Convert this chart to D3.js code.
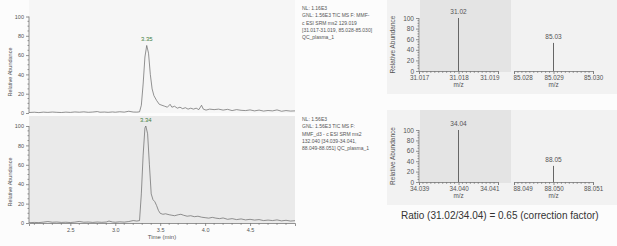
<!DOCTYPE html>
<html>
<head>
<meta charset="utf-8">
<script src="https://cdn.jsdelivr.net/npm/d3@7"></script>
<style>
  body { margin: 0; background: #fcfcfc; }
  svg { display: block; font-family: "Liberation Sans", Arial, sans-serif; }
  .axis path, .axis line { stroke: #777; stroke-width: 0.8; }
  .axis text { fill: #555; }
</style>
</head>
<body>
<div id="container"></div>
<script>
// chromatogram 1 (MMF, 129.019)
const ticTime1 = [2.04, 2.1, 2.15, 2.2, 2.25, 2.3, 2.35, 2.4, 2.45, 2.5, 2.55, 2.6, 2.65, 2.7, 2.75, 2.8, 2.83, 2.88, 2.92, 2.97,
  3.0, 3.05, 3.1, 3.15, 3.2, 3.24, 3.27, 3.29, 3.31, 3.33, 3.35, 3.37, 3.39, 3.41, 3.43, 3.46, 3.49, 3.52, 3.55, 3.58,
  3.61, 3.63, 3.66, 3.69, 3.72, 3.75, 3.78, 3.81, 3.84, 3.87, 3.9, 3.93, 3.96, 3.98, 4.01, 4.05, 4.1, 4.15, 4.2, 4.25,
  4.3, 4.35, 4.4, 4.45, 4.5, 4.55, 4.6, 4.65, 4.7, 4.75, 4.8, 4.85, 4.9, 4.95, 5.0];
const ticAbund1 = [0.5, 0.8, 0.4, 0.9, 0.6, 1.0, 0.7, 0.5, 0.9, 0.6, 1.1, 0.8, 1.2, 0.7, 1.0, 1.5, 0.8, 1.0, 0.7, 1.1,
  0.8, 1.3, 0.9, 1.8, 1.0, 0.9, 1.2, 8, 30, 58, 70, 62, 40, 25, 18, 13, 9, 8, 7, 6,
  9, 6, 7, 5, 6, 4.5, 5.5, 4, 5, 4, 5, 3.5, 8, 4, 3, 4, 3.5, 4, 3, 3.8,
  2.5, 3.5, 2.8, 2.5, 3.2, 2.2, 3, 2, 2.6, 2.2, 3.2, 1.8, 2.5, 2, 2.2];

// chromatogram 2 (MMF_d3, 132.040)
const ticTime2 = [2.04, 2.1, 2.15, 2.2, 2.25, 2.3, 2.35, 2.4, 2.45, 2.5, 2.55, 2.6, 2.65, 2.7, 2.75, 2.8, 2.85, 2.9, 2.93, 2.97,
  3.0, 3.05, 3.1, 3.15, 3.2, 3.24, 3.27, 3.29, 3.31, 3.33, 3.34, 3.36, 3.38, 3.40, 3.42, 3.44, 3.46, 3.48, 3.50, 3.53,
  3.56, 3.6, 3.63, 3.66, 3.7, 3.73, 3.76, 3.8, 3.84, 3.88, 3.92, 3.96, 4.0, 4.04, 4.08, 4.12, 4.16, 4.2, 4.25, 4.3,
  4.35, 4.4, 4.45, 4.5, 4.55, 4.6, 4.65, 4.7, 4.75, 4.8, 4.85, 4.9, 4.95, 5.0];
const ticAbund2 = [0.3, 0.6, 0.4, 0.9, 1.5, 0.8, 1.0, 0.6, 0.8, 0.5, 0.9, 1.6, 0.8, 1.0, 0.6, 1.0, 0.7, 1.0, 2.0, 1.0,
  0.8, 1.2, 0.9, 1.5, 2.5, 2.0, 2.5, 30, 70, 98, 100, 92, 60, 30, 24, 22, 18, 13, 10, 9,
  9.5, 8.5, 8, 7.5, 8.5, 9, 8, 7, 7.5, 6.5, 7, 6, 5.5, 5, 5.8, 5, 4.5, 5.2, 3.8, 4.5,
  3.5, 4.2, 3.2, 3.8, 3.0, 3.5, 2.5, 3.0, 2.5, 3.2, 2.2, 2.8, 2.0, 2.4];

const peakLabels = ["3.35", "3.34"];
const peakTimes = [3.35, 3.34];
const peakValues = [70, 100];

const timeTicks = [2.5, 3.0, 3.5, 4.0, 4.5];
const abundTicks = [0, 20, 40, 60, 80, 100];

const infoText1 = ["NL: 1.16E3", "GNL: 1.56E3 TIC  MS  F: MMF-", "c ESI SRM ms2 129.019",
  "[31.017-31.019, 85.028-85.030]", "QC_plasma_1"];
const infoText2 = ["NL: 1.56E3", "GNL: 1.56E3 TIC  MS  F:", "MMF_d3 - c ESI SRM ms2",
  "132.040 [34.039-34.041,", "88.049-88.051] QC_plasma_1"];

// mass spectra
const spec1Mz = [31.018, 85.029];
const spec1Abund = [100, 53];
const spec1Labels = ["31.02", "85.03"];
const spec1Ranges = [[31.017, 31.019], [85.028, 85.030]];

const spec2Mz = [34.040, 88.050];
const spec2Abund = [100, 31];
const spec2Labels = ["34.04", "88.05"];
const spec2Ranges = [[34.039, 34.041], [88.049, 88.051]];

const ratioText = "Ratio (31.02/34.04) = 0.65 (correction factor)";

const W = 617, H = 246;
const svg = d3.select("#container").append("svg")
  .attr("width", W).attr("height", H);

// ---- chromatograms
const x = d3.scaleLinear().domain([2.04, 5.0]).range([29, 295]);
const yTop = d3.scaleLinear().domain([0, 100]).range([113, 16.5]);
const yBot = d3.scaleLinear().domain([0, 100]).range([223, 126]);

svg.append("rect").attr("x", x.range()[0]).attr("y", 0)
  .attr("width", x.range()[1] - x.range()[0]).attr("height", yTop(0))
  .attr("fill", "#f6f6f6");
svg.append("rect").attr("x", x.range()[0]).attr("y", 116)
  .attr("width", x.range()[1] - x.range()[0]).attr("height", yBot(0) - 116)
  .attr("fill", "#eaeaea");

function drawChrom(times, vals, y, idx, labelY) {
  const line = d3.line().x((d, i) => x(times[i])).y(d => y(d));
  svg.append("path").datum(vals)
    .attr("d", line)
    .attr("fill", "none")
    .attr("stroke", "#666")
    .attr("stroke-width", 0.7);

  // y axis
  const ya = svg.append("g").attr("class", "axis")
    .attr("transform", `translate(${x.range()[0]},0)`)
    .call(d3.axisLeft(y).tickValues(abundTicks).tickSize(3).tickPadding(2));
  ya.selectAll("text").style("font-size", "5.5px");
  ya.select(".domain").attr("d", `M0,${y(0)}V${y(100)}`);
  ya.selectAll(".minor").data(d3.range(0, 101, 5).filter(v => v % 20))
    .enter().append("line")
    .attr("x1", 0).attr("x2", -1.5)
    .attr("y1", d => y(d)).attr("y2", d => y(d))
    .attr("stroke", "#777").attr("stroke-width", 0.6);

  svg.append("text")
    .attr("transform", `translate(12,${labelY}) rotate(-90)`)
    .attr("text-anchor", "middle")
    .style("font-size", "5.5px").attr("fill", "#555")
    .text("Relative Abundance");

  svg.append("text")
    .attr("x", x(peakTimes[idx])).attr("y", y(peakValues[idx]) - 4)
    .attr("text-anchor", "middle")
    .style("font-size", "6px").attr("fill", "#3f7f3f")
    .text(peakLabels[idx]);
}

drawChrom(ticTime1, ticAbund1, yTop, 0, 72);
drawChrom(ticTime2, ticAbund2, yBot, 1, 182);

// time axis
const xa = svg.append("g").attr("class", "axis")
  .attr("transform", `translate(0,${yBot(0)})`)
  .call(d3.axisBottom(x).tickValues(timeTicks).tickSize(3).tickPadding(2)
    .tickFormat(d3.format(".1f")));
xa.selectAll("text").style("font-size", "5.5px");
xa.selectAll(".minor").data(d3.range(21, 50).map(v => v / 10).filter(v => Math.abs(v * 2 - Math.round(v * 2)) > 0.01))
  .enter().append("line")
  .attr("x1", d => x(d)).attr("x2", d => x(d))
  .attr("y1", 0).attr("y2", 1.8)
  .attr("stroke", "#777").attr("stroke-width", 0.6);
svg.append("text").attr("x", 162).attr("y", 239)
  .attr("text-anchor", "middle").style("font-size", "6px").attr("fill", "#555")
  .text("Time (min)");

function drawInfo(lines, top) {
  svg.append("g").selectAll("text").data(lines).enter().append("text")
    .attr("x", 302).attr("y", (d, i) => top + i * 7.3)
    .style("font-size", "5px").attr("fill", "#555")
    .text(d => d);
}
drawInfo(infoText1, 10);
drawInfo(infoText2, 121);

// ---- mass spectra
function drawSpec(mz, ab, labels, ranges, boxTop, y) {
  const segs = [
    d3.scaleLinear().domain(ranges[0]).range([419, 498]),
    d3.scaleLinear().domain(ranges[1]).range([514, 593])
  ];
  svg.append("rect").attr("x", 387).attr("y", boxTop)
    .attr("width", W - 387).attr("height", y(0) - boxTop + 23)
    .attr("fill", "#f2f2f2");
  svg.append("rect").attr("x", 420).attr("y", boxTop)
    .attr("width", 91).attr("height", y(0) - boxTop + 1)
    .attr("fill", "#e4e4e4");

  const ya = svg.append("g").attr("class", "axis")
    .attr("transform", "translate(419,0)")
    .call(d3.axisLeft(y).tickValues(abundTicks).tickSize(3).tickPadding(2));
  ya.selectAll("text").style("font-size", "6.5px");
  ya.select(".domain").attr("d", `M0,${y(0)}V${y(100)}`);
  ya.selectAll(".minor").data(d3.range(0, 101, 5).filter(v => v % 20))
    .enter().append("line")
    .attr("x1", 0).attr("x2", -1.5)
    .attr("y1", d => y(d)).attr("y2", d => y(d))
    .attr("stroke", "#777").attr("stroke-width", 0.6);

  svg.append("text")
    .attr("transform", `translate(395,${(y(0) + y(100)) / 2}) rotate(-90)`)
    .attr("text-anchor", "middle")
    .style("font-size", "6.5px").attr("fill", "#555")
    .text("Relative Abundance");

  segs.forEach((s, k) => {
    const d0 = ranges[k][0];
    const ax = svg.append("g").attr("class", "axis")
      .attr("transform", `translate(0,${y(0)})`)
      .call(d3.axisBottom(s).tickValues([d0, d0 + 0.001, d0 + 0.002])
        .tickSize(3).tickPadding(1.5).tickFormat(d3.format(".3f")));
    ax.selectAll("text").style("font-size", "6.3px");
    // keep the two inner end labels apart, as in the original
    if (k === 0) ax.selectAll(".tick:last-of-type text").attr("text-anchor", "end").attr("x", 1);
    if (k === 1) ax.selectAll(".tick text").filter((d, i) => i === 0).attr("text-anchor", "start").attr("x", -1);
    ax.selectAll(".minor").data(d3.range(1, 20).filter(v => v % 10).map(v => d0 + v * 0.0001))
      .enter().append("line")
      .attr("x1", d => s(d)).attr("x2", d => s(d))
      .attr("y1", 0).attr("y2", 1.8)
      .attr("stroke", "#777").attr("stroke-width", 0.6);
    svg.append("text").attr("x", s(d0 + 0.001)).attr("y", y(0) + 15.5)
      .attr("text-anchor", "middle").style("font-size", "6.3px").attr("fill", "#555")
      .text("m/z");

    svg.append("line")
      .attr("x1", s(mz[k])).attr("x2", s(mz[k]))
      .attr("y1", y(0)).attr("y2", y(ab[k]))
      .attr("stroke", "#666").attr("stroke-width", 1);
    svg.append("text")
      .attr("x", s(mz[k])).attr("y", y(ab[k]) - 4)
      .attr("text-anchor", "middle").style("font-size", "6.5px").attr("fill", "#555")
      .text(labels[k]);
  });
}

drawSpec(spec1Mz, spec1Abund, spec1Labels, spec1Ranges, 0,
  d3.scaleLinear().domain([0, 100]).range([71, 18]));
drawSpec(spec2Mz, spec2Abund, spec2Labels, spec2Ranges, 110,
  d3.scaleLinear().domain([0, 100]).range([182, 130]));

svg.append("text").attr("x", 401).attr("y", 219)
  .style("font-size", "10px").attr("fill", "#333")
  .text(ratioText);
</script>
</body>
</html>
